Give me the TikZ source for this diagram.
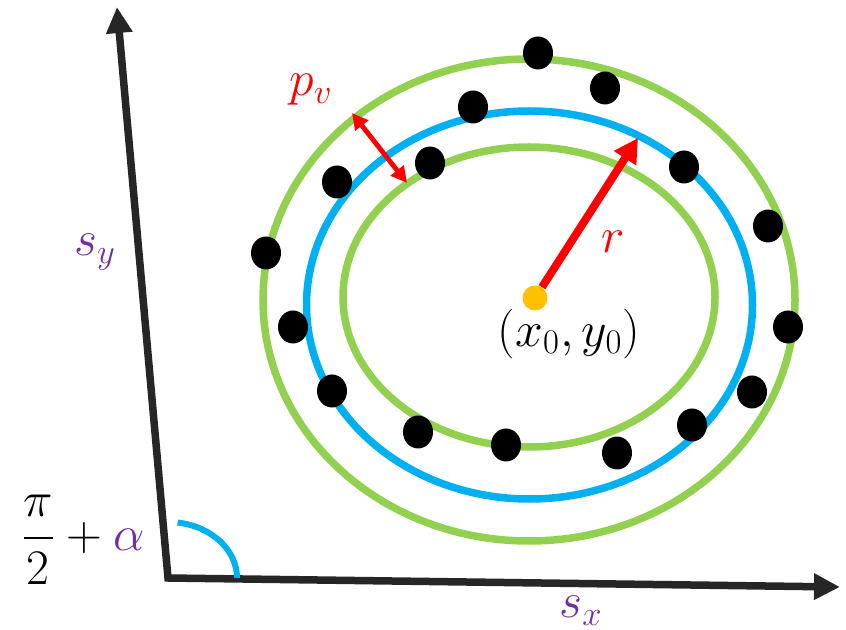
\documentclass[tikz,border=0pt]{standalone}
\usepackage{amsmath,amssymb}
\usetikzlibrary{shapes.geometric,arrows.meta}
\definecolor{ringgreen}{HTML}{92D050}
\definecolor{orbitblue}{HTML}{00B0F0}
\definecolor{axisgray}{HTML}{262626}
\definecolor{ctryellow}{HTML}{FFC000}
\definecolor{sxpurple}{HTML}{7030A0}
\tikzset{
  ring/.style={draw=ringgreen, line width=3.75pt},
  orbit/.style={draw=orbitblue, line width=3.75pt},
  pt/.style={ellipse, fill=black, minimum width=15pt, minimum height=16.5pt, inner sep=0pt},
  ctr/.style={circle, fill=ctryellow, minimum size=12.5pt, inner sep=0pt},
  lbl/.style={font=\fontsize{24}{28}\selectfont, inner sep=0pt},
  axis/.style={draw=axisgray, line width=3.75pt, {Triangle[length=13pt,width=12.5pt]}-{Triangle[length=13pt,width=12.5pt]}},
  rarr/.style={draw=red, line width=4pt, -{Triangle[length=12pt,width=12.5pt]}},
  dbl/.style={draw=red, line width=2.4pt, {Triangle[length=8pt,width=8pt]}-{Triangle[length=8pt,width=8pt]}}
}

\begin{document}
\begin{tikzpicture}[x={(0.5pt,0)}, y={(0,-0.5pt)}]
\useasboundingbox (0,0) rectangle (846,630);
\coordinate (o) at (168,578);
\coordinate (ytip) at (117,7);
\coordinate (xtip) at (840,587);
\draw[axis] (ytip) -- (o) -- (xtip);
\draw[orbitblue, line width=3pt] (237,578) arc[start angle=0, end angle=82, x radius=34.5pt, y radius=28pt];

\draw[ring] (529,300) ellipse[x radius=133pt, y radius=120.5pt];
\draw[orbit] (529.5,305) ellipse[x radius=111.5pt, y radius=97pt];
\draw[ring] (529,297) ellipse[x radius=93pt, y radius=75pt];

\node[pt] (d1) at (538,53) {}; \node[pt] (d2) at (605,88) {}; \node[pt] (d3) at (473,107) {};
\node[pt] (d4) at (430,163) {}; \node[pt] (d5) at (337,182) {}; \node[pt] (d6) at (684,167) {};
\node[pt] (d7) at (768,226) {}; \node[pt] (d8) at (266,253) {}; \node[pt] (d9) at (293,327) {};
\node[pt] (d10) at (788,327) {}; \node[pt] (d11) at (332,391) {}; \node[pt] (d12) at (752,392) {};
\node[pt] (d13) at (418,432) {}; \node[pt] (d14) at (506,445) {}; \node[pt] (d15) at (617,453) {};
\node[pt] (d16) at (692,425) {};

\node[ctr] (c) at (535,298) {};
\coordinate (rtip) at (638,138);
\draw[rarr] (c) -- (rtip);
\coordinate (pva) at (352,113);
\coordinate (pvb) at (407,183);
\draw[dbl] (pva) -- (pvb);

\node[lbl, text=red] (pv) at (311,90) {$p_v$};
\node[lbl, text=red] (rl) at (613,242) {$r$};
\node[lbl] (x0) at (569,334) {$(x_0,y_0)$};
\node[lbl, text=sxpurple] (sy) at (95,252) {$s_y$};
\node[lbl, text=sxpurple] (sx) at (581,611) {$s_x$};
\node[lbl] (ang) at (83,540) {$\dfrac{\pi}{2}+\textcolor{sxpurple}{\alpha}$};
\end{tikzpicture}
\end{document}
